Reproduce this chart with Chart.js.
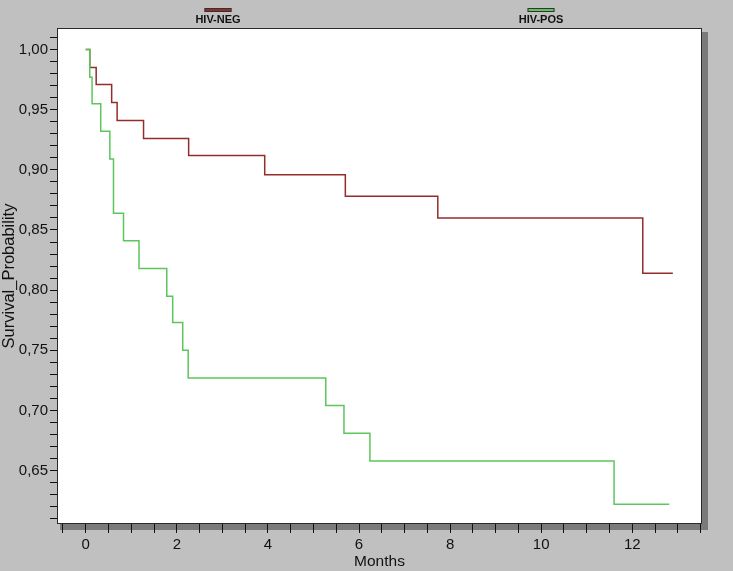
<!DOCTYPE html>
<html>
<head>
<meta charset="utf-8">
<script src="https://cdn.jsdelivr.net/npm/chart.js@4/dist/chart.umd.min.js"></script>
<style>
html,body{margin:0;padding:0;background:#c0c0c0;overflow:hidden;}
#wrap{width:733px;height:571px;}
</style>
</head>
<body>
<div id="wrap"><canvas id="c" width="733" height="571"></canvas></div>
<script>
// ---- data ----
const seriesNames = ['HIV-NEG', 'HIV-POS'];

const negMonths   = [0, 0.09, 0.23, 0.57, 0.69, 1.27, 2.26, 3.93, 5.70, 7.73, 12.23, 12.89];
const negSurvival = [1.000, 0.985, 0.971, 0.956, 0.941, 0.926, 0.912, 0.896, 0.878, 0.860, 0.814, 0.814];

const posMonths   = [0, 0.09, 0.14, 0.33, 0.53, 0.61, 0.83, 1.17, 1.78, 1.91, 2.13, 2.25, 5.27, 5.67, 6.24, 11.60, 12.81];
const posSurvival = [1.000, 0.977, 0.955, 0.932, 0.909, 0.864, 0.841, 0.818, 0.795, 0.773, 0.750, 0.727, 0.704, 0.681, 0.658, 0.622, 0.622];

const xTickValues = [-0.5, 0, 0.5, 1, 1.5, 2, 2.5, 3, 3.5, 4, 4.5, 5, 5.5, 6, 6.5, 7, 7.5, 8, 8.5, 9, 9.5, 10, 10.5, 11, 11.5, 12, 12.5, 13, 13.5];
const xLabeledTicks = [0, 2, 4, 6, 8, 10, 12];
const xTickLabels   = ['0', '2', '4', '6', '8', '10', '12'];

const yTickValues = [0.61, 0.62, 0.63, 0.64, 0.65, 0.66, 0.67, 0.68, 0.69, 0.70,
                     0.71, 0.72, 0.73, 0.74, 0.75, 0.76, 0.77, 0.78, 0.79, 0.80,
                     0.81, 0.82, 0.83, 0.84, 0.85, 0.86, 0.87, 0.88, 0.89, 0.90,
                     0.91, 0.92, 0.93, 0.94, 0.95, 0.96, 0.97, 0.98, 0.99, 1.00, 1.01];
const yLabeledTicks = [0.65, 0.70, 0.75, 0.80, 0.85, 0.90, 0.95, 1.00];
const yTickLabels   = ['0,65', '0,70', '0,75', '0,80', '0,85', '0,90', '0,95', '1,00'];

const xTitle = 'Months';
const yTitle = 'Survival_Probability';

// ---- styling ----
const NEG_COLOR = '#952c2c';
const POS_COLOR = '#5cc65c';
const FONT = '"Liberation Sans", Arial, sans-serif';

function toPoints(xs, ys) { return xs.map((x, i) => ({x: x, y: ys[i]})); }
function labelFor(v, vals, labels) {
  for (let i = 0; i < vals.length; i++) if (Math.abs(v - vals[i]) < 1e-6) return labels[i];
  return '';
}

const framePlugin = {
  id: 'frame',
  beforeDraw(chart) {
    const ctx = chart.ctx, a = chart.chartArea;
    ctx.save();
    ctx.fillStyle = '#c0c0c0';
    ctx.fillRect(0, 0, chart.width, chart.height);
    // shadow
    ctx.fillStyle = '#7b7b7b';
    ctx.fillRect(a.right, a.top + 4, 6, a.bottom - a.top + 2);
    ctx.fillRect(a.left + 3, a.bottom, a.right - a.left + 3, 6);
    // white plot box
    ctx.fillStyle = '#ffffff';
    ctx.fillRect(a.left, a.top, a.right - a.left, a.bottom - a.top);
    ctx.strokeStyle = '#2a2a2a';
    ctx.lineWidth = 1;
    ctx.strokeRect(a.left + 0.5, a.top + 0.5, a.right - a.left - 1, a.bottom - a.top - 1);
    ctx.restore();
  },
  afterDraw(chart) {
    const ctx = chart.ctx;
    const centers = [218, 541];
    ctx.save();
    chart.data.datasets.forEach((ds, i) => {
      const cx = centers[i];
      ctx.fillStyle = ds.borderColor;
      ctx.fillRect(cx - 13.5, 8, 27, 4);
      ctx.strokeStyle = '#333';
      ctx.lineWidth = 1;
      ctx.strokeRect(cx - 13.5 + 0.5, 8 + 0.5, 26, 3);
      ctx.fillStyle = '#111';
      ctx.font = 'bold 11px ' + FONT;
      ctx.textAlign = 'center';
      ctx.textBaseline = 'middle';
      ctx.fillText(ds.label, cx, 20);
    });
    ctx.restore();
  }
};

new Chart(document.getElementById('c'), {
  type: 'line',
  data: {
    datasets: [
      { label: seriesNames[0], data: toPoints(negMonths, negSurvival), order: 2, borderColor: NEG_COLOR, backgroundColor: NEG_COLOR, borderWidth: 1.5, pointRadius: 0, stepped: true, fill: false },
      { label: seriesNames[1], data: toPoints(posMonths, posSurvival), order: 1, borderColor: POS_COLOR, backgroundColor: POS_COLOR, borderWidth: 1.5, pointRadius: 0, stepped: true, fill: false }
    ]
  },
  options: {
    responsive: false,
    animation: false,
    devicePixelRatio: 1,
    layout: { padding: { left: 0, top: 28, right: 31, bottom: 0 } },
    plugins: { legend: { display: false }, tooltip: { enabled: false }, title: { display: false } },
    scales: {
      x: {
        type: 'linear',
        min: -0.63, max: 13.53,
        afterBuildTicks: s => { s.ticks = xTickValues.map(v => ({value: v})); },
        afterFit: s => { s.height = 47; },
        border: { display: false },
        grid: { drawOnChartArea: false, drawTicks: true, tickLength: 9, color: '#111', lineWidth: 1 },
        ticks: { autoSkip: false, maxRotation: 0, padding: 3, color: '#111', font: { family: FONT, size: 15 },
                 callback: v => labelFor(v, xLabeledTicks, xTickLabels) },
        title: { display: true, text: xTitle, color: '#111', font: { family: FONT, size: 15.5 }, padding: { top: 0, bottom: 0 } }
      },
      y: {
        type: 'linear',
        min: 0.6056, max: 1.0179,
        afterBuildTicks: s => { s.ticks = yTickValues.map(v => ({value: v})); },
        afterFit: s => { s.width = 57; },
        border: { display: false },
        grid: { drawOnChartArea: false, drawTicks: true, tickLength: 7, color: '#111', lineWidth: 1 },
        ticks: { autoSkip: false, padding: 2, color: '#111', font: { family: FONT, size: 15 },
                 callback: v => labelFor(v, yLabeledTicks, yTickLabels) },
        title: { display: true, text: yTitle, color: '#111', font: { family: FONT, size: 16.5 }, padding: { top: 0, bottom: 0 } }
      }
    }
  },
  plugins: [framePlugin]
});
</script>
</body>
</html>
